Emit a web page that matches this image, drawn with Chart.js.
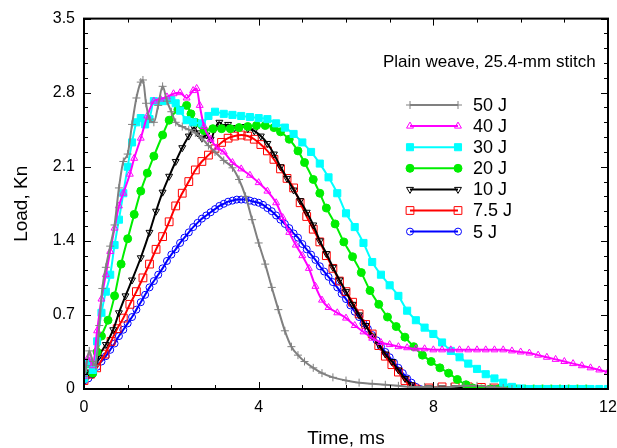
<!DOCTYPE html>
<html>
<head>
<meta charset="utf-8">
<script src="https://cdn.jsdelivr.net/npm/chart.js@4.4.0/dist/chart.umd.min.js"></script>
<style>
  html, body { margin: 0; padding: 0; background: #fff; }
</style>
</head>
<body>
<canvas id="chart0" width="617" height="448"></canvas>
<script>
// tick labels
const xTicks = [0, 4, 8, 12];
const yTicks = [0, 0.7, 1.4, 2.1, 2.8, 3.5];

// series (time in ms, load in kN)
const t50 = [0, 0.05, 0.12, 0.2, 0.27, 0.35, 0.42, 0.5, 0.6, 0.7, 0.8, 0.9, 1.0, 1.1, 1.2, 1.3, 1.35, 1.42, 1.5, 1.6, 1.7, 1.8, 1.9, 2.0, 2.1, 2.25, 2.4, 2.55, 2.7, 2.85, 3.0, 3.2, 3.4, 3.55, 3.7, 3.85, 4.0, 4.15, 4.3, 4.45, 4.6, 4.75, 4.9, 5.05, 5.25, 5.45, 5.7, 6.0, 6.3, 6.6, 6.9, 7.2, 7.5, 7.8, 8.1, 8.4, 8.7, 9.0, 9.3, 9.6, 9.8];
const l50 = [0.12, 0.22, 0.36, 0.26, 0.22, 0.60, 0.95, 1.15, 1.35, 1.55, 1.90, 2.15, 2.22, 2.50, 2.75, 2.90, 2.92, 2.70, 2.55, 2.52, 2.68, 2.86, 2.72, 2.62, 2.52, 2.48, 2.45, 2.42, 2.37, 2.30, 2.24, 2.16, 2.09, 1.98, 1.82, 1.60, 1.38, 1.18, 0.96, 0.75, 0.55, 0.40, 0.32, 0.26, 0.20, 0.15, 0.11, 0.08, 0.06, 0.05, 0.04, 0.03, 0.02, 0.02, 0.015, 0.02, 0.03, 0.03, 0.02, 0.01, 0];

const t40 = [0, 0.1, 0.2, 0.3, 0.4, 0.5, 0.6, 0.7, 0.8, 0.9, 1.05, 1.15, 1.3, 1.45, 1.6, 1.75, 1.9, 2.05, 2.2, 2.35, 2.5, 2.58, 2.65, 2.75, 2.9, 3.05, 3.2, 3.4, 3.6, 3.8, 4.0, 4.2, 4.4, 4.55, 4.7, 4.85, 5.0, 5.15, 5.3, 5.45, 5.6, 5.8, 6.0, 6.2, 6.4, 6.6, 6.8, 7.0, 7.2, 7.4, 7.6, 7.8, 8.0, 8.2, 8.4, 8.6, 8.8, 9.0, 9.2, 9.4, 9.6, 9.8, 10.0, 10.2, 10.4, 10.6, 10.8, 11.0, 11.2, 11.4, 11.6, 11.8, 12.0];
const l40 = [0.12, 0.30, 0.22, 0.55, 0.85, 1.08, 1.30, 1.52, 1.73, 1.85, 2.03, 2.18, 2.37, 2.58, 2.72, 2.74, 2.76, 2.79, 2.80, 2.75, 2.82, 2.84, 2.68, 2.48, 2.36, 2.28, 2.24, 2.14, 2.08, 2.02, 1.95, 1.87, 1.76, 1.62, 1.48, 1.36, 1.26, 1.14, 0.97, 0.84, 0.77, 0.72, 0.67, 0.60, 0.54, 0.48, 0.44, 0.42, 0.40, 0.39, 0.38, 0.38, 0.37, 0.37, 0.37, 0.37, 0.37, 0.37, 0.37, 0.37, 0.37, 0.36, 0.35, 0.34, 0.32, 0.30, 0.28, 0.26, 0.24, 0.22, 0.20, 0.18, 0.16];

const t30 = [0, 0.1, 0.2, 0.3, 0.4, 0.5, 0.6, 0.7, 0.8, 0.9, 1.0, 1.1, 1.2, 1.3, 1.4, 1.5, 1.6, 1.8, 2.0, 2.1, 2.2, 2.35, 2.5, 2.7, 2.85, 3.0, 3.2, 3.4, 3.6, 3.8, 4.0, 4.2, 4.4, 4.6, 4.8, 5.0, 5.2, 5.4, 5.6, 5.8, 6.0, 6.2, 6.4, 6.6, 6.8, 7.0, 7.2, 7.4, 7.6, 7.8, 8.0, 8.2, 8.4, 8.6, 8.8, 9.0, 9.2, 9.4, 9.6, 9.8, 10.0, 10.2, 10.4, 10.6, 10.8, 11.0, 11.2, 11.4, 11.6, 11.8, 12.0];
const l30 = [0.10, 0.25, 0.18, 0.45, 0.72, 0.92, 1.08, 1.36, 1.60, 1.85, 2.10, 2.33, 2.52, 2.56, 2.50, 2.55, 2.72, 2.72, 2.73, 2.70, 2.63, 2.54, 2.52, 2.51, 2.58, 2.62, 2.60, 2.59, 2.58, 2.57, 2.56, 2.55, 2.51, 2.47, 2.41, 2.33, 2.24, 2.13, 2.00, 1.85, 1.66, 1.53, 1.38, 1.20, 1.08, 0.98, 0.88, 0.74, 0.65, 0.58, 0.52, 0.44, 0.36, 0.30, 0.24, 0.19, 0.14, 0.10, 0.06, 0.02, 0.005, 0, 0, 0, 0, 0, 0, 0, 0, 0, 0];

const t20 = [0, 0.1, 0.2, 0.3, 0.4, 0.55, 0.7, 0.85, 1.0, 1.15, 1.3, 1.45, 1.6, 1.8, 1.95, 2.15, 2.35, 2.45, 2.55, 2.75, 2.95, 3.15, 3.35, 3.55, 3.75, 3.95, 4.15, 4.35, 4.5, 4.7, 4.9, 5.05, 5.25, 5.4, 5.55, 5.75, 5.95, 6.15, 6.35, 6.55, 6.75, 6.95, 7.15, 7.35, 7.55, 7.75, 7.95, 8.15, 8.35, 8.55, 8.75, 8.9, 9.1, 9.3, 9.5, 9.7, 9.9, 10.1, 10.3, 10.5, 10.7, 10.9, 11.1, 11.3, 11.5];
const l20 = [0.10, 0.24, 0.15, 0.35, 0.50, 0.65, 0.88, 1.18, 1.42, 1.65, 1.87, 2.04, 2.20, 2.40, 2.54, 2.64, 2.68, 2.60, 2.52, 2.44, 2.46, 2.46, 2.46, 2.47, 2.48, 2.49, 2.49, 2.47, 2.43, 2.36, 2.25, 2.14, 1.98, 1.85, 1.71, 1.56, 1.39, 1.25, 1.10, 0.93, 0.80, 0.68, 0.59, 0.49, 0.40, 0.32, 0.26, 0.20, 0.15, 0.09, 0.04, 0.01, 0, 0, 0, 0, 0, 0, 0, 0, 0, 0, 0, 0, 0];

const t10 = [0, 0.1, 0.2, 0.33, 0.5, 0.67, 0.8, 0.95, 1.1, 1.3, 1.5, 1.65, 1.8, 1.95, 2.1, 2.25, 2.4, 2.52, 2.6, 2.7, 2.8, 2.9, 3.0, 3.1, 3.2, 3.3, 3.45, 3.6, 3.75, 3.9, 4.05, 4.2, 4.35, 4.5, 4.65, 4.8, 4.95, 5.1, 5.25, 5.4, 5.55, 5.7, 5.85, 6.0, 6.15, 6.3, 6.45, 6.6, 6.75, 6.9, 7.05, 7.2, 7.35, 7.5, 7.65, 7.9, 8.2, 8.5, 8.8, 9.1, 9.4, 9.7, 10.0];
const l10 = [0.10, 0.16, 0.14, 0.30, 0.42, 0.56, 0.72, 0.88, 1.03, 1.24, 1.48, 1.68, 1.86, 2.01, 2.15, 2.28, 2.39, 2.47, 2.42, 2.37, 2.40, 2.36, 2.46, 2.52, 2.48, 2.50, 2.47, 2.48, 2.46, 2.44, 2.39, 2.32, 2.22, 2.10, 1.99, 1.88, 1.78, 1.67, 1.55, 1.40, 1.28, 1.15, 1.03, 0.92, 0.80, 0.70, 0.60, 0.50, 0.42, 0.33, 0.26, 0.18, 0.10, 0.04, 0, 0.01, 0.01, 0.01, 0.01, 0.01, 0.01, 0.01, 0];

const t75 = [0, 0.15, 0.29, 0.48, 0.62, 0.76, 0.9, 1.05, 1.2, 1.35, 1.5, 1.65, 1.8, 1.95, 2.1, 2.25, 2.4, 2.55, 2.7, 2.85, 3.0, 3.15, 3.3, 3.45, 3.6, 3.75, 3.9, 4.05, 4.2, 4.35, 4.5, 4.65, 4.8, 4.95, 5.1, 5.25, 5.4, 5.55, 5.7, 5.85, 6.0, 6.15, 6.3, 6.45, 6.6, 6.75, 6.9, 7.05, 7.2, 7.35, 7.5, 7.6, 7.9, 8.2, 8.5, 8.8, 9.1, 9.4, 9.7];
const l75 = [0.08, 0.14, 0.20, 0.33, 0.45, 0.57, 0.67, 0.80, 0.92, 1.05, 1.18, 1.32, 1.44, 1.58, 1.73, 1.85, 1.96, 2.07, 2.15, 2.21, 2.27, 2.33, 2.37, 2.39, 2.40, 2.39, 2.36, 2.31, 2.25, 2.17, 2.08, 1.99, 1.90, 1.76, 1.63, 1.51, 1.39, 1.26, 1.14, 1.02, 0.92, 0.82, 0.71, 0.61, 0.52, 0.41, 0.31, 0.23, 0.16, 0.08, 0.02, 0, 0.01, 0.02, 0.02, 0.02, 0.015, 0.01, 0];

const t5 = [0, 0.1, 0.2, 0.3, 0.4, 0.5, 0.6, 0.7, 0.8, 0.9, 1.0, 1.1, 1.2, 1.3, 1.4, 1.5, 1.6, 1.7, 1.8, 1.9, 2.0, 2.1, 2.2, 2.3, 2.4, 2.5, 2.6, 2.7, 2.8, 2.9, 3.0, 3.1, 3.2, 3.3, 3.4, 3.5, 3.6, 3.7, 3.8, 3.9, 4.0, 4.1, 4.2, 4.3, 4.4, 4.5, 4.6, 4.7, 4.8, 4.9, 5.0, 5.1, 5.2, 5.3, 5.4, 5.5, 5.6, 5.7, 5.8, 5.9, 6.0, 6.1, 6.2, 6.3, 6.4, 6.5, 6.6, 6.7, 6.8, 6.9, 7.0, 7.1, 7.2, 7.3, 7.4, 7.5, 7.6, 7.7];
const l5 = [0.08, 0.10, 0.14, 0.21, 0.26, 0.31, 0.37, 0.43, 0.50, 0.56, 0.62, 0.68, 0.75, 0.82, 0.89, 0.96, 1.02, 1.08, 1.14, 1.21, 1.27, 1.32, 1.38, 1.43, 1.48, 1.53, 1.57, 1.61, 1.64, 1.67, 1.70, 1.73, 1.75, 1.77, 1.78, 1.79, 1.79, 1.79, 1.78, 1.77, 1.76, 1.74, 1.71, 1.68, 1.64, 1.60, 1.56, 1.52, 1.47, 1.43, 1.37, 1.32, 1.27, 1.22, 1.16, 1.11, 1.06, 1.01, 0.96, 0.90, 0.85, 0.79, 0.73, 0.68, 0.62, 0.57, 0.51, 0.46, 0.40, 0.35, 0.30, 0.25, 0.20, 0.15, 0.10, 0.06, 0.02, 0];

const legendTitle = 'Plain weave, 25.4-mm stitch';

function pts(t, l) {
  return t.map((v, i) => ({ x: v, y: l[i] }));
}

//series style helper
function series(label, t, l, color, style, radius, filled, rot) {
  return {
    label: label,
    data: pts(t, l),
    borderColor: color,
    backgroundColor: filled ? color : 'rgba(0,0,0,0)',
    borderWidth: 2,
    pointStyle: style,
    pointRadius: radius,
    pointRotation: rot || 0,
    pointBorderColor: color,
    pointBackgroundColor: filled ? color : 'rgba(0,0,0,0)',
    pointBorderWidth: 1,
    cubicInterpolationMode: 'monotone',
    fill: false
  };
}

const datasets = [
  series('50 J', t50, l50, '#808080', 'cross', 4, false),
  series('40 J', t40, l40, '#ff00ff', 'triangle', 4, false),
  series('30 J', t30, l30, '#00ffff', 'rect', 5, true),
  series('20 J', t20, l20, '#00ee00', 'circle', 4, true),
  series('10 J', t10, l10, '#000000', 'triangle', 4, false, 180),
  series('7.5 J', t75, l75, '#ff0000', 'rect', 5.5, false),
  series('5 J', t5, l5, '#0000ff', 'circle', 3.5, false)
];

// box + inward ticks on all sides
const frameTicks = {
  id: 'frameTicks',
  afterDatasetsDraw(chart) {
    const ctx = chart.ctx, a = chart.chartArea;
    const x = chart.scales.x, y = chart.scales.y;
    ctx.save();
    ctx.strokeStyle = '#000';
    ctx.lineWidth = 1;
    for (let v = 0; v <= 12; v++) {
      const px = Math.round(x.getPixelForValue(v)) + 0.5;
      const len = (v % 4 === 0) ? 7 : 4;
      ctx.beginPath();
      ctx.moveTo(px, a.bottom); ctx.lineTo(px, a.bottom - len);
      ctx.moveTo(px, a.top); ctx.lineTo(px, a.top + len);
      ctx.stroke();
    }
    for (let i = 0; i <= 25; i++) {
      const py = Math.round(y.getPixelForValue(i * 0.14)) + 0.5;
      const len = (i % 5 === 0) ? 7 : 4;
      ctx.beginPath();
      ctx.moveTo(a.left, py); ctx.lineTo(a.left + len, py);
      ctx.moveTo(a.right, py); ctx.lineTo(a.right - len, py);
      ctx.stroke();
    }
    ctx.lineWidth = 2;
    ctx.strokeRect(a.left, a.top, a.right - a.left, a.bottom - a.top);
    ctx.restore();
  }
};

// legend inside the plot
const boxLegend = {
  id: 'boxLegend',
  afterDraw(chart) {
    const ctx = chart.ctx;
    ctx.save();
    ctx.fillStyle = '#000';
    ctx.font = '17px "Liberation Sans", Arial, sans-serif';
    ctx.textBaseline = 'middle';
    ctx.textAlign = 'left';
    ctx.fillText(legendTitle, 383, 62);
    const x0 = 410, x1 = 458, tx = 473, y0 = 105, dy = 21.1;
    chart.data.datasets.forEach((ds, i) => {
      const yy = y0 + i * dy;
      ctx.strokeStyle = ds.borderColor;
      ctx.lineWidth = 2;
      ctx.beginPath();
      ctx.moveTo(x0, yy); ctx.lineTo(x1, yy);
      ctx.stroke();
      ctx.fillStyle = ds.pointBackgroundColor;
      ctx.strokeStyle = ds.pointBorderColor;
      ctx.lineWidth = 1;
      [x0, x1].forEach(px => {
        Chart.helpers.drawPoint(ctx, {
          pointStyle: ds.pointStyle, radius: ds.pointRadius,
          rotation: ds.pointRotation, borderWidth: 1
        }, px, yy);
      });
      ctx.fillStyle = '#000';
      ctx.font = '18px "Liberation Sans", Arial, sans-serif';
      ctx.fillText(ds.label, tx, yy + 1);
    });
    ctx.restore();
  }
};

const tickFont = { family: '"Liberation Sans", Arial, sans-serif', size: 16 };
const titleFont = { family: '"Liberation Sans", Arial, sans-serif', size: 19 };

new Chart(document.getElementById('chart0').getContext('2d'), {
  type: 'line',
  data: { datasets: datasets },
  options: {
    responsive: false,
    animation: false,
    layout: { padding: { left: 0, right: 9, top: 18, bottom: 0 } },
    plugins: { legend: { display: false }, tooltip: { enabled: false } },
    scales: {
      x: {
        type: 'linear', min: 0, max: 12,
        grid: { display: false, drawTicks: false },
        border: { display: false },
        afterBuildTicks: s => { s.ticks = xTicks.map(v => ({ value: v })); },
        afterFit: s => { s.height = 59; s.paddingRight = 0; s.paddingLeft = 0; },
        ticks: { color: '#000', font: tickFont, padding: 9, autoSkip: false, maxRotation: 0,
                 callback: v => String(v) },
        title: { display: true, text: 'Time, ms', color: '#000', font: titleFont,
                 padding: { top: 0, bottom: -2 } }
      },
      y: {
        type: 'linear', min: 0, max: 3.5,
        grid: { display: false, drawTicks: false },
        border: { display: false },
        afterBuildTicks: s => { s.ticks = yTicks.map(v => ({ value: v })); },
        afterFit: s => { s.width = 84; },
        ticks: { color: '#000', font: tickFont, padding: 9, autoSkip: false,
                 callback: v => (v === 0 ? '0' : v.toFixed(1)) },
        title: { display: true, text: 'Load, Kn', color: '#000', font: titleFont,
                 padding: { top: 10, bottom: 0 } }
      }
    }
  },
  plugins: [frameTicks, boxLegend]
});
</script>
</body>
</html>
